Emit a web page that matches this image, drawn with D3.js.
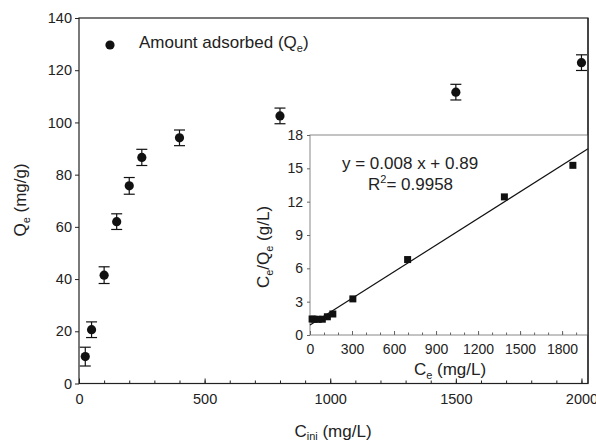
<!DOCTYPE html>
<html>
<head>
<meta charset="utf-8">
<script src="https://cdn.jsdelivr.net/npm/d3@7"></script>
<style>
    body { margin: 0; background: #fff; }
    svg text { font-family: "Liberation Sans", Arial, sans-serif; fill: #222; }
</style>
</head>
<body>
<div id="chart"></div>
<script>
// main plot: amount adsorbed vs initial concentration
const cIni = [25, 50, 100, 150, 200, 250, 400, 800, 1500, 2000];
const qe = [10.3, 20.6, 41.5, 62.0, 75.7, 86.6, 94.1, 102.5, 111.6, 122.9];
const qeErr = [3.6, 3.0, 3.2, 3.0, 3.2, 3.1, 3.0, 3.0, 3.0, 3.0];
const mainXTicks = [0, 500, 1000, 1500, 2000];
const mainYTicks = [0, 20, 40, 60, 80, 100, 120, 140];

// inset: linearised Langmuir
const ce = [15, 29, 58, 88, 124, 163, 306, 697, 1388, 1877];
const ceQe = [1.44, 1.42, 1.41, 1.42, 1.64, 1.89, 3.25, 6.79, 12.43, 15.27];
const fitSlope = 0.008;
const fitIntercept = 0.89;
const insetXTicks = [0, 300, 600, 900, 1200, 1500, 1800];
const insetYTicks = [0, 3, 6, 9, 12, 15, 18];

const W = 596, H = 440;
const fmt = d3.format("d");
const svg = d3.select("#chart").append("svg")
    .attr("width", W).attr("height", H);

const x = d3.scaleLinear().domain([0, 2026]).range([79, 588]);
const y = d3.scaleLinear().domain([0, 140]).range([383.5, 18]);

// main x axis: ticks point inward
svg.append("g")
    .attr("transform", "translate(0,383.5)")
    .call(d3.axisBottom(x).tickValues(d3.range(0, 2001, 100)).tickSize(-3).tickFormat(""))
    .call(g => g.select(".domain").remove());
svg.append("g")
    .attr("transform", "translate(0,383.5)")
    .call(d3.axisBottom(x).tickValues(mainXTicks).tickSize(-5).tickFormat(fmt))
    .call(g => g.select(".domain").remove())
    .selectAll("text").style("font-size", "14.5px").attr("y", 10);

svg.append("g")
    .attr("transform", "translate(79,0)")
    .call(d3.axisLeft(y).tickValues(mainYTicks).tickSize(4).tickPadding(3))
    .call(g => g.select(".domain").remove())
    .selectAll("text").style("font-size", "14.5px");

svg.selectAll(".tick line").attr("stroke", "#222");

// frame
svg.append("rect")
    .attr("x", 79).attr("y", 18)
    .attr("width", 588 - 79).attr("height", 383.5 - 18)
    .attr("fill", "none").attr("stroke", "#222").attr("stroke-width", 1.2);

// error bars + points
const pts = cIni.map((c, i) => ({ c, q: qe[i], e: qeErr[i] }));
const eb = svg.append("g").attr("stroke", "#111").attr("stroke-width", 1.2);
pts.forEach(d => {
    eb.append("line").attr("x1", x(d.c)).attr("x2", x(d.c)).attr("y1", y(d.q - d.e)).attr("y2", y(d.q + d.e));
    eb.append("line").attr("x1", x(d.c) - 5.5).attr("x2", x(d.c) + 5.5).attr("y1", y(d.q - d.e)).attr("y2", y(d.q - d.e));
    eb.append("line").attr("x1", x(d.c) - 5.5).attr("x2", x(d.c) + 5.5).attr("y1", y(d.q + d.e)).attr("y2", y(d.q + d.e));
});
svg.selectAll(".pt").data(pts).enter().append("circle")
    .attr("cx", d => x(d.c)).attr("cy", d => y(d.q))
    .attr("r", 4.6).attr("fill", "#111");

// legend
svg.append("circle").attr("cx", 110).attr("cy", 45).attr("r", 4.6).attr("fill", "#111");
const leg = svg.append("text").attr("x", 139).attr("y", 48).style("font-size", "17px");
leg.append("tspan").text("Amount adsorbed (Q");
leg.append("tspan").text("e").attr("dy", 4).style("font-size", "11px");
leg.append("tspan").text(")").attr("dy", -4);

// axis titles
const xt = svg.append("text").attr("x", 333).attr("y", 437).attr("text-anchor", "middle").style("font-size", "17px");
xt.append("tspan").text("C");
xt.append("tspan").text("ini").attr("dy", 3).style("font-size", "11px");
xt.append("tspan").text(" (mg/L)").attr("dy", -3);

const yt = svg.append("text").attr("transform", "translate(26,200) rotate(-90)").attr("text-anchor", "middle").style("font-size", "17px");
yt.append("tspan").text("Q");
yt.append("tspan").text("e").attr("dy", 4).style("font-size", "11px");
yt.append("tspan").text(" (mg/g)").attr("dy", -4);

// ---- inset ----
const ix = d3.scaleLinear().domain([0, 1985]).range([310, 588]);
const iy = d3.scaleLinear().domain([0, 18]).range([335, 135]);

svg.append("rect")
    .attr("x", 310).attr("y", 135).attr("width", 588 - 310).attr("height", 200)
    .attr("fill", "#fff").attr("stroke", "#888").attr("stroke-width", 1);

const inset = svg.append("g");
inset.append("g")
    .attr("transform", "translate(0,335)")
    .call(d3.axisBottom(ix).tickValues(d3.range(0, 1901, 100)).tickSize(-2.5).tickFormat(""))
    .call(g => g.select(".domain").remove());
inset.append("g")
    .attr("transform", "translate(0,335)")
    .call(d3.axisBottom(ix).tickValues(insetXTicks).tickSize(-4).tickFormat(fmt))
    .call(g => g.select(".domain").remove())
    .selectAll("text").style("font-size", "14px").attr("y", 9);
inset.append("g")
    .attr("transform", "translate(310,0)")
    .call(d3.axisLeft(iy).tickValues(insetYTicks).tickSize(3).tickPadding(4))
    .call(g => g.select(".domain").remove())
    .selectAll("text").style("font-size", "14px");
inset.selectAll(".tick line").attr("stroke", "#666");

// fit line
const fitX = ix.domain();
inset.append("line")
    .attr("x1", ix(fitX[0])).attr("y1", iy(fitIntercept + fitSlope * fitX[0]))
    .attr("x2", ix(fitX[1])).attr("y2", iy(fitIntercept + fitSlope * fitX[1]))
    .attr("stroke", "#111").attr("stroke-width", 1.2);

inset.selectAll(".sq").data(ce.map((c, i) => ({ c, v: ceQe[i] }))).enter().append("rect")
    .attr("x", d => ix(d.c) - 3.5).attr("y", d => iy(d.v) - 3.5)
    .attr("width", 7).attr("height", 7).attr("fill", "#111");

inset.append("text").attr("x", 342).attr("y", 169).style("font-size", "17px")
    .text("y = " + fitSlope.toFixed(3) + " x + " + fitIntercept.toFixed(2));
const r2 = inset.append("text").attr("x", 368).attr("y", 190).style("font-size", "17px");
r2.append("tspan").text("R");
r2.append("tspan").text("2").attr("dy", -7).style("font-size", "11px");
r2.append("tspan").text("= 0.9958").attr("dy", 7);

const ixt = inset.append("text").attr("x", 450).attr("y", 375).attr("text-anchor", "middle").style("font-size", "17px");
ixt.append("tspan").text("C");
ixt.append("tspan").text("e").attr("dy", 4).style("font-size", "11px");
ixt.append("tspan").text(" (mg/L)").attr("dy", -4);

const iyt = inset.append("text").attr("transform", "translate(269,247) rotate(-90)").attr("text-anchor", "middle").style("font-size", "17px");
iyt.append("tspan").text("C");
iyt.append("tspan").text("e").attr("dy", 4).style("font-size", "11px");
iyt.append("tspan").text("/Q").attr("dy", -4);
iyt.append("tspan").text("e").attr("dy", 4).style("font-size", "11px");
iyt.append("tspan").text(" (g/L)").attr("dy", -4);

// main frame right edge stays dark over the inset
svg.append("line").attr("x1", 588).attr("x2", 588).attr("y1", 18).attr("y2", 383.5)
    .attr("stroke", "#222").attr("stroke-width", 1.2);
</script>
</body>
</html>
